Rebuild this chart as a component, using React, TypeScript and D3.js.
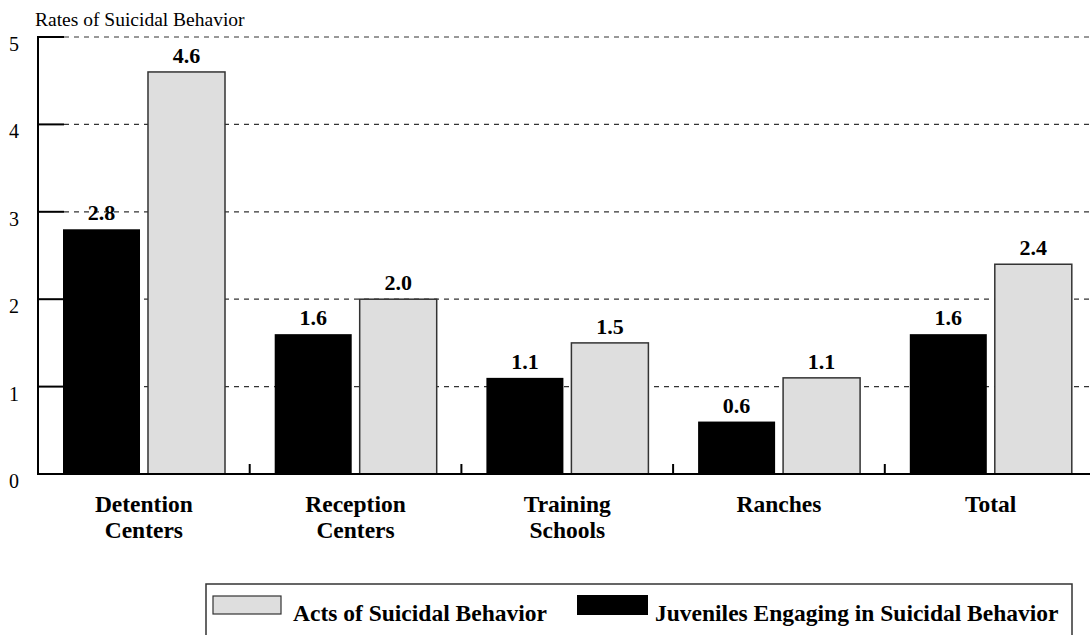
import React from "react";
import * as d3 from "d3";

const categories = [["Detention", "Centers"], ["Reception", "Centers"], ["Training", "Schools"], ["Ranches"], ["Total"]];
const juveniles = [2.8, 1.6, 1.1, 0.6, 1.6];
const acts = [4.6, 2.0, 1.5, 1.1, 2.4];
const yTicks = [0, 1, 2, 3, 4, 5];

const W = 1090, H = 635;
const left = 38, top = 37, bottom = 474;
const font = "Liberation Serif";

export default function App() {
  const y = d3.scaleLinear().domain([0, 5]).range([bottom, top]);
  const x = d3.scaleBand<number>().domain(d3.range(categories.length)).range([left, left + 211.7 * 5]).paddingInner(0).paddingOuter(0);
  const inner = d3.scaleBand<number>().domain([0, 1]).range([25, 187]).paddingInner(0.094).paddingOuter(0);
  const T = (p: any) => <text {...p} style={{ fontFamily: font }} />;
  return (
    <svg width={W} height={H} style={{ position: "absolute", left: 0, top: 0, display: "block" }}>
      <T x={35} y={26} fontSize={19.5}>Rates of Suicidal Behavior</T>
      {yTicks.map((t) => (
        <g key={t}>
          {t > 0 && <line x1={64} x2={W} y1={y(t)} y2={y(t)} stroke="#333" strokeWidth={1.2} strokeDasharray="5,5" />}
          {t > 0 && <line x1={left} x2={64} y1={y(t)} y2={y(t)} stroke="#000" strokeWidth={2} />}
          <T x={14} y={y(t) + 14} fontSize={20} textAnchor="middle">{t}</T>
        </g>
      ))}
      {categories.map((c, i) => {
        const x0 = x(i)!;
        const bx = x0 + inner(0)!;
        const gx = x0 + inner(1)!;
        const bw = inner.bandwidth();
        const cx = x0 + x.bandwidth() / 2;
        return (
          <g key={i}>
            <rect x={bx} y={y(juveniles[i])} width={bw} height={bottom - y(juveniles[i])} fill="#000" />
            <rect x={gx} y={y(acts[i])} width={bw} height={bottom - y(acts[i])} fill="#dedede" stroke="#333" strokeWidth={1.5} />
            <T x={bx + bw / 2} y={y(juveniles[i]) - 9} fontSize={22} fontWeight="bold" textAnchor="middle">{juveniles[i].toFixed(1)}</T>
            <T x={gx + bw / 2} y={y(acts[i]) - 9} fontSize={22} fontWeight="bold" textAnchor="middle">{acts[i].toFixed(1)}</T>
            {i > 0 && <line x1={x0} x2={x0} y1={bottom - 10} y2={bottom} stroke="#000" strokeWidth={2} />}
            {c.map((s, k) => (
              <T key={k} x={cx} y={512 + k * 26} fontSize={23.5} fontWeight="bold" textAnchor="middle">{s}</T>
            ))}
          </g>
        );
      })}
      <line x1={left} x2={left} y1={top - 1} y2={bottom + 1} stroke="#000" strokeWidth={2} />
      <line x1={left} x2={W} y1={bottom} y2={bottom} stroke="#000" strokeWidth={2} />
      <rect x={206} y={584} width={866} height={60} fill="none" stroke="#333" strokeWidth={1.5} />
      <rect x={213} y={596} width={68} height={18} fill="#dedede" stroke="#333" strokeWidth={1.2} />
      <T x={293} y={621} fontSize={23.5} fontWeight="bold">Acts of Suicidal Behavior</T>
      <rect x={577} y={595} width={71} height={20} fill="#000" />
      <T x={655} y={621} fontSize={23.5} fontWeight="bold">Juveniles Engaging in Suicidal Behavior</T>
    </svg>
  );
}
